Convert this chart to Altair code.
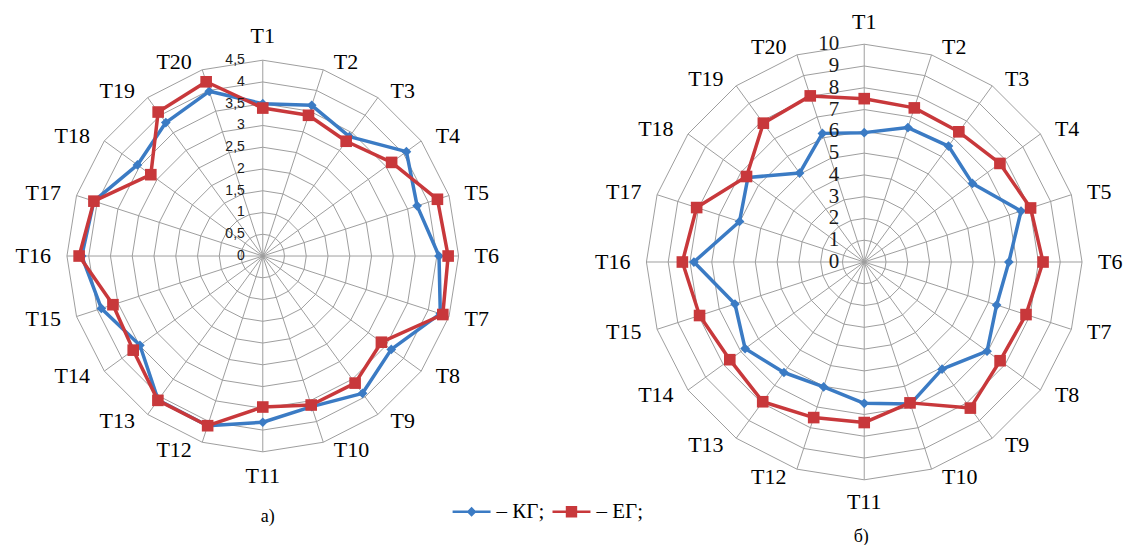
import math
import altair as alt
import pandas as pd

categories = ["T1", "T2", "T3", "T4", "T5", "T6", "T7", "T8", "T9", "T10",
              "T11", "T12", "T13", "T14", "T15", "T16", "T17", "T18", "T19", "T20"]
series_names = ["КГ", "ЕГ"]

# panel a)
left_kg = [3.50, 3.64, 3.39, 4.08, 3.73, 4.05, 4.29, 3.65, 3.90, 3.64,
           3.82, 4.10, 4.09, 3.49, 3.90, 4.16, 4.08, 3.56, 3.79, 3.98]
left_eg = [3.40, 3.40, 3.26, 3.66, 4.22, 4.26, 4.35, 3.37, 3.61, 3.60,
           3.47, 4.10, 4.10, 3.68, 3.62, 4.22, 4.08, 3.18, 4.09, 4.21]
# panel б)
right_kg = [5.94, 6.49, 6.58, 6.14, 7.57, 6.64, 6.39, 6.97, 6.08, 6.86,
            6.49, 6.03, 6.27, 6.76, 6.24, 7.82, 6.02, 6.60, 5.05, 6.21]
right_eg = [7.50, 7.44, 7.39, 7.70, 8.03, 8.21, 7.81, 7.71, 8.29, 6.80,
            7.37, 7.51, 7.93, 7.63, 7.95, 8.35, 8.09, 6.68, 7.88, 8.02]

left_ticks = [0, 0.5, 1, 1.5, 2, 2.5, 3, 3.5, 4, 4.5]
left_tick_labels = ["0", "0,5", "1", "1,5", "2", "2,5", "3", "3,5", "4", "4,5"]
right_ticks = [0, 1, 2, 3, 4, 5, 6, 7, 8, 9, 10]
right_tick_labels = ["0", "1", "2", "3", "4", "5", "6", "7", "8", "9", "10"]
panel_titles = ["а)", "б)"]

BLUE = "#3b7bc4"
RED = "#c8383b"
GRID = "#9e9e9e"
SERIF = "Liberation Serif"

LEGEND_SHAPES = [
    "M-1,-0.07L1,-0.07L1,0.07L-1,0.07Z M-0.26,0L0,-0.26L0.26,0L0,0.26Z",
    "M-1,-0.07L1,-0.07L1,0.07L-1,0.07Z M-0.3,-0.3L0.3,-0.3L0.3,0.3L-0.3,0.3Z",
]


def polar(r, i, n):
    a = 2 * math.pi * i / n
    return r * math.sin(a), r * math.cos(a)


def panel(kg, eg, ticks, tick_labels, width, height, cx_px, cy_px, radius_px,
          tick_font, tick_size, tick_dx, center_off, title, title_dx, with_legend):
    n = len(categories)
    rmax = ticks[-1]
    ppu = radius_px / rmax
    xs = alt.Scale(domain=[-cx_px / ppu, (width - cx_px) / ppu], nice=False, zero=False)
    ys = alt.Scale(domain=[-(height - cy_px) / ppu, cy_px / ppu], nice=False, zero=False)

    def X(f):
        return alt.X(f, type="quantitative", scale=xs, axis=None)

    def Y(f):
        return alt.Y(f, type="quantitative", scale=ys, axis=None)

    # grid rings (polygons)
    ring_rows = []
    for t in ticks:
        if t == 0:
            continue
        for k in range(n + 1):
            x, y = polar(t, k % n, n)
            ring_rows.append({"ring": t, "order": k, "x": x, "y": y})
    rings = alt.Chart(pd.DataFrame(ring_rows)).mark_line(
        color=GRID, strokeWidth=1
    ).encode(x=X("x"), y=Y("y"), detail="ring:N", order="order:Q")

    # spokes
    spoke_rows = []
    for i in range(n):
        x, y = polar(rmax, i, n)
        spoke_rows.append({"x": 0.0, "y": 0.0, "x2": x, "y2": y})
    spokes = alt.Chart(pd.DataFrame(spoke_rows)).mark_rule(
        color=GRID, strokeWidth=1
    ).encode(x=X("x"), y=Y("y"), x2="x2:Q", y2="y2:Q")

    # series
    srows = []
    for name, vals in zip(series_names, [kg, eg]):
        for k in range(n + 1):
            i = k % n
            x, y = polar(vals[i], i, n)
            srows.append({"series": name, "order": k, "cat": categories[i],
                          "value": vals[i], "x": x, "y": y})
    sdf = pd.DataFrame(srows)
    base = alt.Chart(sdf)
    layers = [rings, spokes]
    styles = {"КГ": (BLUE, "diamond", 95), "ЕГ": (RED, "square", 135)}
    for name in series_names:
        col, shp, sz = styles[name]
        line = base.transform_filter(alt.datum.series == name).mark_line(
            color=col, strokeWidth=3.5, strokeJoin="round"
        ).encode(x=X("x"), y=Y("y"), order="order:Q")
        pts = base.transform_filter(
            (alt.datum.series == name) & (alt.datum.order < n)
        ).mark_point(shape=shp, filled=True, color=col, size=sz, opacity=1).encode(
            x=X("x"), y=Y("y")
        )
        layers += [line, pts]

    # category labels
    lrows = []
    for i, c in enumerate(categories):
        s = math.sin(2 * math.pi * i / n)
        if s > 0.05:
            side = "left"
            r = rmax + 8 / ppu
        elif s < -0.05:
            side = "right"
            r = rmax + 8 / ppu
        else:
            side = "center"
            r = rmax + center_off / ppu
        x, y = polar(r, i, n)
        lrows.append({"cat": c, "x": x, "y": y, "side": side})
    ldf = alt.Chart(pd.DataFrame(lrows))
    for side, dx in [("left", 8), ("right", -8), ("center", 0)]:
        layers.append(
            ldf.transform_filter(alt.datum.side == side).mark_text(
                align=side, baseline="middle", dx=dx, font=SERIF, fontSize=22,
                color="black"
            ).encode(x=X("x"), y=Y("y"), text="cat:N")
        )

    # radial tick labels
    tdf = pd.DataFrame({"value": ticks, "label": tick_labels, "x": [0.0] * len(ticks)})
    layers.append(
        alt.Chart(tdf).mark_text(
            align="right", baseline="middle", dx=tick_dx, font=tick_font,
            fontSize=tick_size, color="#1a1a1a"
        ).encode(x=X("x"), y=Y("value"), text="label:N")
    )

    if with_legend:
        leg = alt.Legend(
            orient="none", legendX=445, legendY=485, direction="horizontal",
            columns=2, title=None, symbolSize=1444, symbolStrokeWidth=0,
            symbolOpacity=1, labelFont=SERIF, labelFontSize=21, labelColor="black",
            labelExpr="'– ' + datum.label + ';'", labelOffset=6, columnPadding=8,
            padding=0,
        )
        hdf = pd.DataFrame({"series": series_names, "hx": [rmax * 50] * 2, "hy": [0.0] * 2})
        layers.append(
            alt.Chart(hdf).mark_point(filled=True, clip=True, opacity=1).encode(
                x=X("hx"), y=Y("hy"),
                color=alt.Color("series:N", scale=alt.Scale(domain=series_names, range=[BLUE, RED]), legend=leg),
                shape=alt.Shape("series:N", scale=alt.Scale(domain=series_names, range=LEGEND_SHAPES), legend=leg),
            )
        )

    return alt.layer(*layers).properties(
        width=width, height=height,
        title=alt.TitleParams(
            text=title, orient="bottom", anchor="middle", font=SERIF, fontSize=18,
            fontWeight="normal", color="black", offset=8, dx=title_dx
        ),
    )


left = panel(left_kg, left_eg, left_ticks, left_tick_labels, 510, 492, 255, 248, 196,
             "Liberation Sans", 14, -18, 24, panel_titles[0], 5, True)
right = panel(right_kg, right_eg, right_ticks, right_tick_labels, 600, 512, 347, 254, 218,
              SERIF, 21, -25, 22, panel_titles[1], 44, False)

chart = alt.hconcat(left, right, spacing=0).resolve_scale(
    x="independent", y="independent"
).properties(padding=0).configure_view(stroke=None)

chart.save("out.html", embed_options={"renderer": "svg", "actions": False})
